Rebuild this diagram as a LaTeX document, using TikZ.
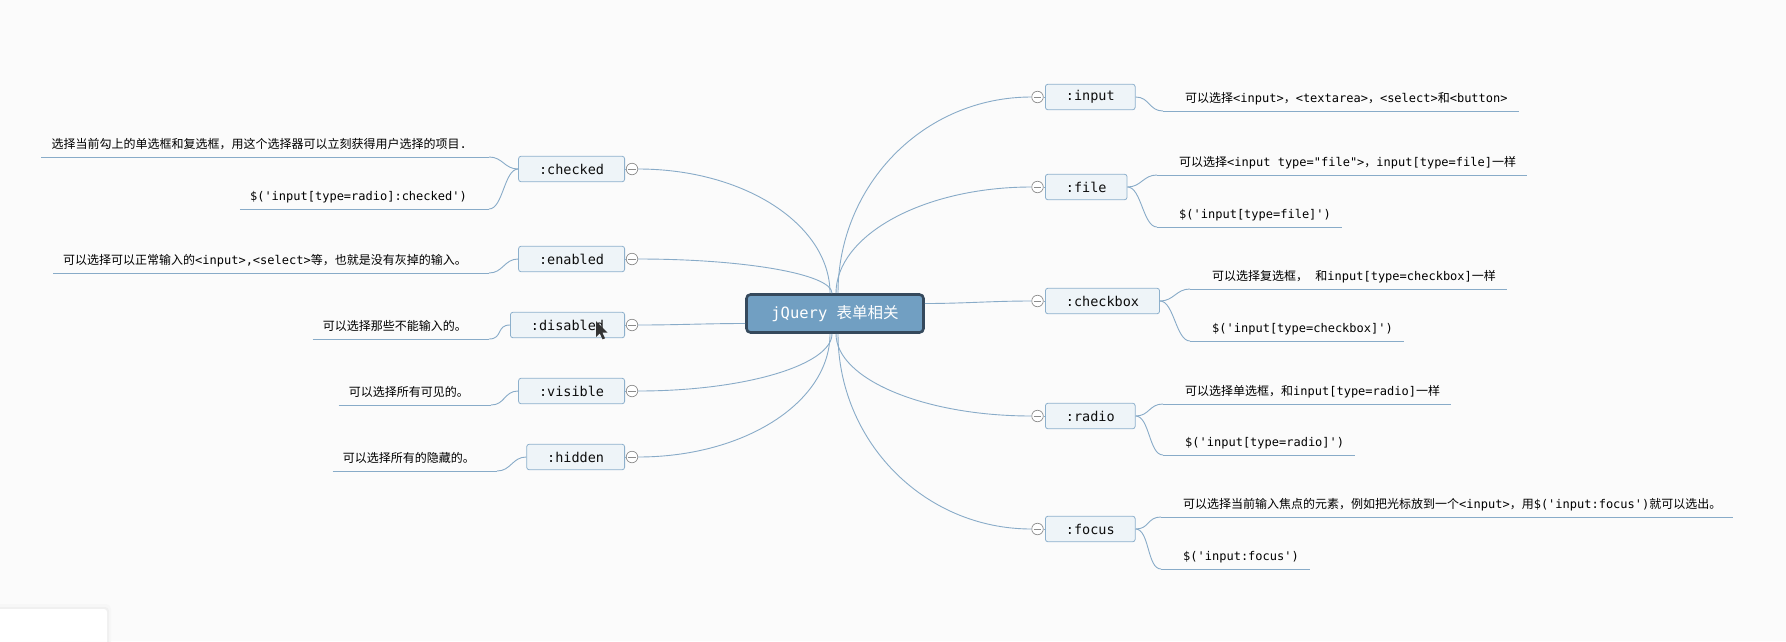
\documentclass[tikz,border=0pt]{standalone}
\usepackage{fontspec}
\setmonofont{DejaVu Sans Mono}
\newfontfamily\cjkf{Noto Sans CJK SC}
\newcommand\zh[1]{{\cjkf #1}}
\usetikzlibrary{calc}
\definecolor{bg}{HTML}{FBFBFB}
\definecolor{lnk}{HTML}{88ABC8}
\definecolor{boxd}{HTML}{8DB0CC}
\definecolor{boxf}{HTML}{EEF4F8}
\definecolor{topf}{HTML}{719FC2}
\definecolor{topd}{HTML}{35495C}
\definecolor{togc}{HTML}{8C8C8C}
\begin{document}
\begin{tikzpicture}[x=1pt,y=-1pt,
  link/.style={draw=lnk, line width=0.9pt},
  topic/.style={draw=topd, line width=2.6pt, fill=topf, rounded corners=4pt, minimum width=177pt, minimum height=38pt, text=white, font=\ttfamily\fontsize{15.5}{18}\selectfont, inner sep=0pt},
  sub/.style={draw=boxd, line width=0.8pt, fill=boxf, rounded corners=2.5pt, minimum height=25.5pt, inner xsep=20.5pt, inner ysep=0pt, text=black!95, font=\ttfamily\fontsize{13.5}{16}\selectfont},
  togg/.style={circle, draw=togc, fill=white, line width=0.7pt, minimum size=11.5pt, inner sep=0pt, path picture={\draw[togc, line width=0.7pt] ([xshift=-3.8pt]path picture bounding box.center) -- ([xshift=3.8pt]path picture bounding box.center);}},
  leaf/.style={inner xsep=0pt, inner ysep=0pt, text height=9pt, text depth=8pt, font=\ttfamily\fontsize{12}{14}\selectfont, text=black},
  leafR/.style={leaf, anchor=south west, execute at begin node={\hskip22pt}, execute at end node={\hskip11pt}},
  leafL/.style={leaf, anchor=south east, execute at begin node={\hskip10pt}, execute at end node={\hskip22pt}},
  ul/.style={draw=lnk, line width=0.9pt}
]
\useasboundingbox (0,0) rectangle (1786,641);
\fill[bg] (0,0) rectangle (1786,641);
\begin{scope}
\clip (0,0) rectangle (1786,641);
\fill[black!3, rounded corners=5pt] (-10,604) rectangle (111,660);
\fill[black!6, rounded corners=4pt] (-10,607) rectangle (109,660);
\fill[white, rounded corners=3pt] (-10,609) rectangle (107,660);
\end{scope}

% root
\node[topic] (root) at (835,313.5) {jQuery \zh{表单相关}};

% left topics
\node[sub, anchor=east] (checked) at (625,169) {:checked};
\node[sub, anchor=east] (enabled) at (625,259) {:enabled};
\node[sub, anchor=east] (disabled) at (625,325) {:disabled};
\node[sub, anchor=east] (visible) at (625,391) {:visible};
\node[sub, anchor=east] (hidden) at (625,457) {:hidden};
\node[togg] (tchecked) at (632,169) {};
\node[togg] (tenabled) at (632,259) {};
\node[togg] (tdisabled) at (632,325) {};
\node[togg] (tvisible) at (632,391) {};
\node[togg] (thidden) at (632,457) {};

% right topics
\node[sub, anchor=west] (input) at (1045,97) {:input};
\node[sub, anchor=west] (file) at (1045,187) {:file};
\node[sub, anchor=west] (checkbox) at (1045,301) {:checkbox};
\node[sub, anchor=west] (radio) at (1045,416) {:radio};
\node[sub, anchor=west] (focus) at (1045,529) {:focus};
\node[togg] (tinput) at (1037.5,97) {};
\node[togg] (tfile) at (1037.5,187) {};
\node[togg] (tcheckbox) at (1037.5,301) {};
\node[togg] (tradio) at (1037.5,416) {};
\node[togg] (tfocus) at (1037.5,529) {};

% right leaves
\node[leafR] (input1) at (1163,111) {\zh{可以选择}<input>\zh{，}<textarea>\zh{，}<select>\zh{和}<button>};
\node[leafR] (file1) at (1157,175) {\zh{可以选择}<input type="file">\zh{，}input[type=file]\zh{一样}};
\node[leafR] (file2) at (1157,227) {\$('input[type=file]')};
\node[leafR] (cb1) at (1190,289) {\zh{可以选择复选框，} \zh{和}input[type=checkbox]\zh{一样}};
\node[leafR] (cb2) at (1190,341) {\$('input[type=checkbox]')};
\node[leafR] (radio1) at (1163,404) {\zh{可以选择单选框，和}input[type=radio]\zh{一样}};
\node[leafR] (radio2) at (1163,455) {\$('input[type=radio]')};
\node[leafR] (focus1) at (1161,517) {\zh{可以选择当前输入焦点的元素，例如把光标放到一个}<input>\zh{，用}\$('input:focus')\zh{就可以选出。}};
\node[leafR] (focus2) at (1161,569) {\$('input:focus')};

% left leaves
\node[leafL] (checked1) at (489,157) {\zh{选择当前勾上的单选框和复选框，用这个选择器可以立刻获得用户选择的项目}.};
\node[leafL] (checked2) at (489,209) {\$('input[type=radio]:checked')};
\node[leafL] (enabled1) at (489,273) {\zh{可以选择可以正常输入的}<input>,<select>\zh{等，也就是没有灰掉的输入。}};
\node[leafL] (disabled1) at (489,339) {\zh{可以选择那些不能输入的。}};
\node[leafL] (visible1) at (491,405) {\zh{可以选择所有可见的。}};
\node[leafL] (hidden1) at (497,471) {\zh{可以选择所有的隐藏的。}};

% underlines
\foreach \n in {input1,file1,file2,cb1,cb2,radio1,radio2,focus1,focus2,checked1,checked2,enabled1,disabled1,visible1,hidden1}
  \draw[ul] (\n.south west) -- (\n.south east);

% root to toggles
\draw[link] ($(root.north)+(3,0)$) .. controls +(0,-108) and +(-108,0) .. (tinput.west);
\draw[link] ($(root.north)+(1,0)$) .. controls +(0,-58) and +(-108,0) .. (tfile.west);
\draw[link] ($(root.east)+(0,-10)$) .. controls +(40,0) and +(-40,0) .. (tcheckbox.west);
\draw[link] ($(root.south)+(1,0)$) .. controls +(0,45) and +(-108,0) .. (tradio.west);
\draw[link] ($(root.south)+(3,0)$) .. controls +(0,107) and +(-108,0) .. (tfocus.west);
\draw[link] ($(root.north)+(-5,0)$) .. controls +(0,-68) and +(107,0) .. (tchecked.east);
\draw[link] ($(root.north)+(-3,0)$) .. controls +(0,-19) and +(107,0) .. (tenabled.east);
\draw[link] ($(root.west)+(0,10)$) .. controls +(-40,0) and +(40,0) .. (tdisabled.east);
\draw[link] ($(root.south)+(-3,0)$) .. controls +(0,31) and +(107,0) .. (tvisible.east);
\draw[link] ($(root.south)+(-5,0)$) .. controls +(0,68) and +(107,0) .. (thidden.east);

% toggle to box
\foreach \n in {input,file,checkbox,radio,focus}
  \draw[link] (t\n.east) -- (\n.west);
\foreach \n in {checked,enabled,disabled,visible,hidden}
  \draw[link] (t\n.west) -- (\n.east);

% topic to leaves
\draw[link] (input.east) .. controls +(14,0) and +(-14,0) .. (input1.south west);
\draw[link] (file.east) .. controls +(14,0) and +(-14,0) .. (file1.south west);
\draw[link] (file.east) .. controls +(14,0) and +(-14,0) .. (file2.south west);
\draw[link] (checkbox.east) .. controls +(14,0) and +(-14,0) .. (cb1.south west);
\draw[link] (checkbox.east) .. controls +(14,0) and +(-14,0) .. (cb2.south west);
\draw[link] (radio.east) .. controls +(14,0) and +(-14,0) .. (radio1.south west);
\draw[link] (radio.east) .. controls +(14,0) and +(-14,0) .. (radio2.south west);
\draw[link] (focus.east) .. controls +(14,0) and +(-14,0) .. (focus1.south west);
\draw[link] (focus.east) .. controls +(14,0) and +(-14,0) .. (focus2.south west);
\draw[link] (checked.west) .. controls +(-14,0) and +(14,0) .. (checked1.south east);
\draw[link] (checked.west) .. controls +(-14,0) and +(14,0) .. (checked2.south east);
\draw[link] (enabled.west) .. controls +(-14,0) and +(14,0) .. (enabled1.south east);
\draw[link] (disabled.west) .. controls +(-14,0) and +(14,0) .. (disabled1.south east);
\draw[link] (visible.west) .. controls +(-14,0) and +(14,0) .. (visible1.south east);
\draw[link] (hidden.west) .. controls +(-14,0) and +(14,0) .. (hidden1.south east);

% mouse cursor
\fill[black!80] (596,321) -- ++(0,16) -- ++(3.8,-3.6) -- ++(2.8,6) -- ++(2.4,-1.1) -- ++(-2.7,-5.8) -- ++(5.2,0) -- cycle;
\end{tikzpicture}
\end{document}
